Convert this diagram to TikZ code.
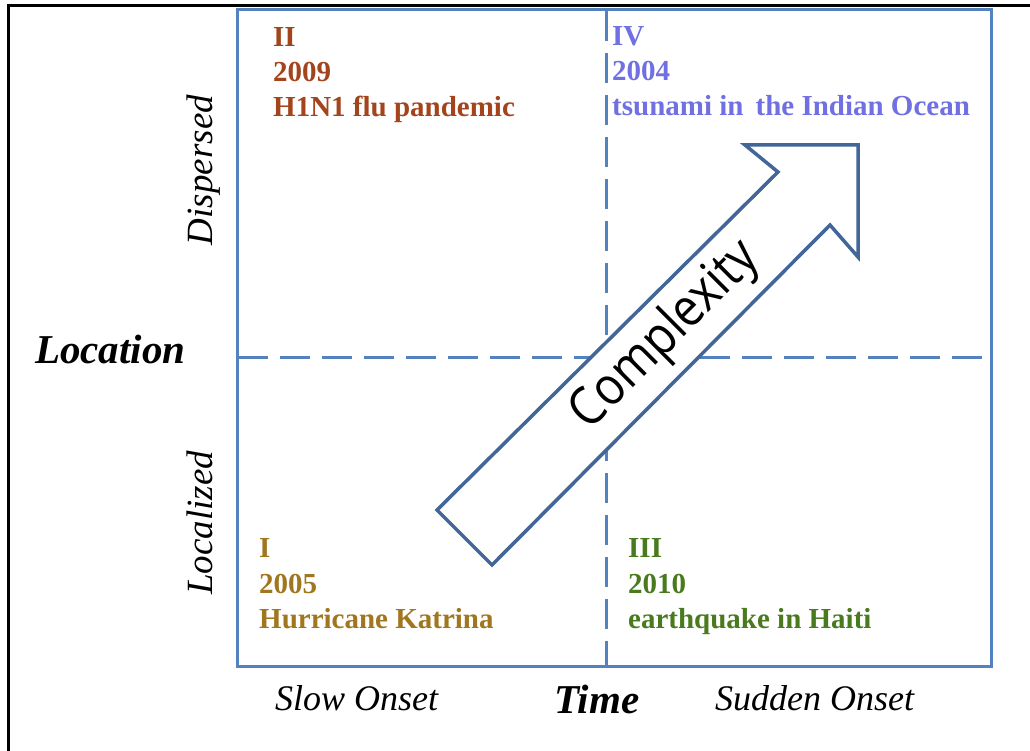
\documentclass[tikz,border=0pt]{standalone}
\usepackage{fontspec}
\setmainfont{Liberation Serif}
\newfontfamily\cxfont{Open Sans}
\definecolor{boxblue}{RGB}{84,130,192}
\definecolor{arrowblue}{RGB}{66,102,152}
\definecolor{qtwo}{RGB}{163,68,28}
\definecolor{qfour}{RGB}{112,112,226}
\definecolor{qone}{RGB}{160,118,30}
\definecolor{qthree}{RGB}{74,122,30}
\begin{document}
\begin{tikzpicture}[x=1pt,y=-1pt,
  quad/.style={font=\fontsize{29}{35}\selectfont\bfseries, anchor=base west, inner sep=0pt},
  axisbig/.style={font=\fontsize{41}{45}\selectfont\bfseries\itshape, anchor=base west, inner sep=0pt},
  axissmall/.style={font=\fontsize{36}{40}\selectfont\itshape, anchor=base west, inner sep=0pt},
  sidelab/.style={font=\fontsize{37}{40}\selectfont\itshape, anchor=base, rotate=90, inner sep=0pt},
  divider/.style={draw=boxblue, line width=3pt, dash pattern=on 30pt off 12pt},
  bigarrow/.style={draw=arrowblue, fill=white, line width=3.5pt, line join=miter}
]
\useasboundingbox (0,0) rectangle (1030,751);
% outer frame (only top and left edges visible)
\coordinate (fbl) at (8,760);
\coordinate (ftl) at (8,6);
\coordinate (ftr) at (1040,6);
\draw[black, line width=3pt] (fbl) -- (ftl) -- (ftr);
% quadrant box
\coordinate (bnw) at (237,10);
\coordinate (bse) at (991,666);
\draw[boxblue, line width=3pt] (bnw) rectangle (bse);
\coordinate (vtop) at (606,11);
\coordinate (vbot) at (606,665);
\coordinate (hleft) at (238,357);
\coordinate (hright) at (990,357);
\draw[divider] (vtop) -- (vbot);
\draw[divider] (hleft) -- (hright);
% complexity arrow
\coordinate (t1) at (437,510);
\coordinate (n1) at (778,172);
\coordinate (b1) at (745,145);
\coordinate (tip) at (858,145);
\coordinate (b2) at (858,257);
\coordinate (n2) at (830,225);
\coordinate (t2) at (492,565);
\draw[bigarrow] (t1) -- (n1) -- (b1) -- (tip) -- (b2) -- (n2) -- (t2) -- cycle;
\node[font=\fontsize{53}{58}\selectfont\cxfont, rotate=45, inner sep=0pt] (cx) at (666,336) {\scalebox{0.88}[1]{Complexity}};
% quadrant texts
\node[quad, text=qtwo] (q2a) at (273,47) {II};
\node[quad, text=qtwo] (q2b) at (273,82) {2009};
\node[quad, text=qtwo] (q2c) at (273,117) {H1N1 flu pandemic};
\node[quad, text=qfour] (q4a) at (612,46) {IV};
\node[quad, text=qfour] (q4b) at (612,81) {2004};
\node[quad, text=qfour] (q4c) at (612,116) {tsunami in \,the Indian Ocean};
\node[quad, text=qone] (q1a) at (259,557) {I};
\node[quad, text=qone] (q1b) at (259,593) {2005};
\node[quad, text=qone] (q1c) at (259,628) {Hurricane Katrina};
\node[quad, text=qthree] (q3a) at (628,557) {III};
\node[quad, text=qthree] (q3b) at (628,593) {2010};
\node[quad, text=qthree] (q3c) at (628,628) {earthquake in Haiti};
% axis labels
\node[axisbig] (loc) at (35,363) {Location};
\node[axisbig] (time) at (554,713) {Time};
\node[axissmall] (slow) at (275,710) {Slow Onset};
\node[axissmall] (sudden) at (715,710) {Sudden Onset};
\node[sidelab] (disp) at (212,170) {Dispersed};
\node[sidelab] (locz) at (212,523) {Localized};
\end{tikzpicture}
\end{document}
